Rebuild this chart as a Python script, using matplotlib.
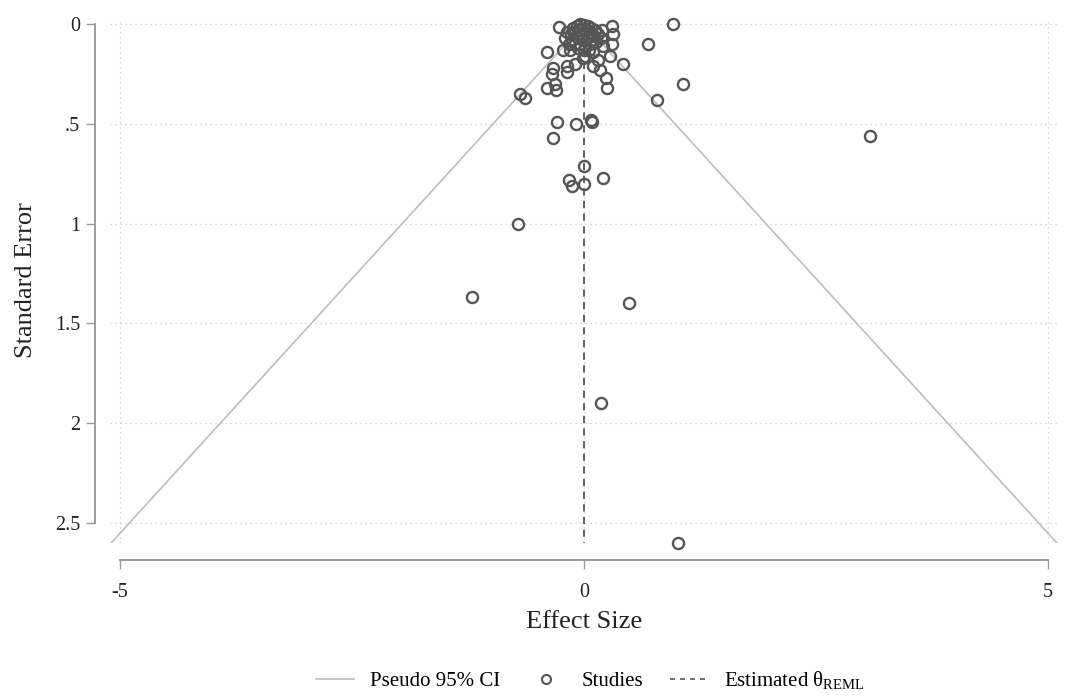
import matplotlib
matplotlib.use("Agg")
import matplotlib.pyplot as plt
from matplotlib.lines import Line2D
import numpy as np

# study effect sizes and standard errors
effect = [
    0.96, 0.69, 3.08, 1.07, 0.79, 0.42,
    -0.69, -0.64, -0.40, -0.40, -0.33, -0.35, -0.31, -0.30,
    -0.29, -0.09, 0.09, 0.08, -0.33,
    0.00, -0.16, -0.13, 0.00, 0.20,
    -0.71, -1.21, 0.48, 0.18, 1.01,
    -0.27, 0.30, 0.31, 0.30, 0.28,
    -0.23, -0.15, -0.20, 0.01, 0.10, 0.15,
    -0.10, -0.18, -0.18, -0.01, 0.10, 0.17, 0.24, 0.25,
    -0.12, -0.08, -0.04, 0.00, 0.04, 0.08, 0.12,
    -0.14, -0.10, -0.05, 0.02, 0.06, 0.11, 0.15,
    -0.13, -0.07, -0.02, 0.03, 0.08, 0.13,
    -0.10, -0.04, 0.01, 0.06, 0.18, 0.20, 0.19,
    -0.18, -0.16, 0.00, 0.05, -0.06,
]
std_err = [
    0.00, 0.10, 0.56, 0.30, 0.38, 0.20,
    0.35, 0.37, 0.14, 0.32, 0.22, 0.25, 0.30, 0.33,
    0.49, 0.50, 0.49, 0.48, 0.57,
    0.71, 0.78, 0.81, 0.80, 0.77,
    1.00, 1.37, 1.40, 1.90, 2.60,
    0.015, 0.01, 0.05, 0.10, 0.16,
    0.13, 0.13, 0.07, 0.16, 0.14, 0.18,
    0.20, 0.21, 0.24, 0.17, 0.21, 0.23, 0.27, 0.32,
    0.02, 0.01, 0.00, 0.005, 0.01, 0.02, 0.03,
    0.05, 0.04, 0.03, 0.03, 0.04, 0.06, 0.05,
    0.08, 0.07, 0.06, 0.07, 0.08, 0.09,
    0.10, 0.10, 0.11, 0.10, 0.07, 0.11, 0.03,
    0.04, 0.10, 0.13, 0.13, 0.12,
]
theta_reml = 0.0
se_max = 2.6

x_ticks = [-5, 0, 5]
y_ticks = [0, 0.5, 1, 1.5, 2, 2.5]
y_ticklabels = ["0", ".5", "1", "1.5", "2", "2.5"]

plt.rcParams["font.family"] = ["Liberation Serif", "DejaVu Serif"]
plt.rcParams["mathtext.fontset"] = "custom"
plt.rcParams["mathtext.rm"] = "Liberation Serif"

fig = plt.figure(figsize=(10.67, 6.96), dpi=100)
ax = fig.add_axes([0.1031, 0.2198, 0.8885, 0.7543])

grid_col = "#c8c8c8"
for yt in y_ticks:
    ax.axhline(yt, color=grid_col, lw=0.9, ls=(0, (1, 3)), zorder=0)
for xt in x_ticks:
    ax.axvline(xt, color=grid_col, lw=0.9, ls=(0, (1, 3)), zorder=0)

# pseudo 95% CI funnel
se_line = np.array([0, se_max])
ax.plot(theta_reml - 1.96 * se_line, se_line, color="#bdbdbd", lw=1.2, zorder=1)
ax.plot(theta_reml + 1.96 * se_line, se_line, color="#bdbdbd", lw=1.2, zorder=1)

# estimated theta
ax.plot([theta_reml, theta_reml], [0, se_max], color="#555555", lw=1.3,
        ls=(0, (4, 3)), zorder=2)

ax.plot(effect, std_err, "o", ms=8, mfc="none", mec="#555555", mew=1.7,
        zorder=3, clip_on=False)

ax.set_xlim(-5.108, 5.108)
ax.set_ylim(2.6, -0.03)

for s in ["top", "right"]:
    ax.spines[s].set_visible(False)
ax.spines["left"].set_position(("outward", 11))
ax.spines["bottom"].set_position(("outward", 12))
ax.spines["left"].set_bounds(0, 2.5)
ax.spines["bottom"].set_bounds(-5, 5)
for s in ["left", "bottom"]:
    ax.spines[s].set_color("#9a9a9a")
    ax.spines[s].set_linewidth(1.4)

ax.set_xticks(x_ticks)
ax.set_xticklabels(["-5", "0", "5"])
ax.set_yticks(y_ticks)
ax.set_yticklabels(y_ticklabels)
ax.tick_params(axis="both", colors="#9a9a9a", labelcolor="#222222", labelsize=14.5,
               length=6.5, width=1.0, pad=4)
ax.tick_params(axis="x", pad=10)

ax.set_xlabel("Effect Size", fontsize=19, color="#222222", labelpad=7)
ax.set_ylabel("Standard Error", fontsize=19, color="#222222", labelpad=13)

handles = [
    Line2D([], [], color="#bdbdbd", lw=1.2),
    Line2D([], [], ls="none", marker="o", ms=6.5, mfc="none", mec="#555555", mew=1.5),
    Line2D([], [], color="#555555", lw=1.2, ls=(0, (3, 3))),
]
labels = ["Pseudo 95% CI", "Studies", "Estimated θ$_{\\mathrm{REML}}$"]
fig.legend(handles, labels, loc="center", bbox_to_anchor=(0.553, 0.022), ncol=3,
           frameon=False, fontsize=15, handlelength=1.85, columnspacing=1.3,
           handletextpad=0.75)

fig.savefig("out.png", dpi=100)
